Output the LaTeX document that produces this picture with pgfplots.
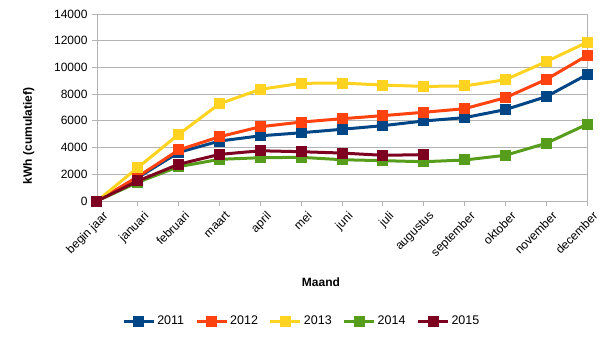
\documentclass[border=0pt]{standalone}
\usepackage{fontspec}
\setmainfont{Liberation Sans}
\usepackage{pgfplots}
\pgfplotsset{compat=1.18}
\definecolor{c2011}{HTML}{004586}
\definecolor{c2012}{HTML}{FF420E}
\definecolor{c2013}{HTML}{FFD320}
\definecolor{c2014}{HTML}{579D1C}
\definecolor{c2015}{HTML}{7E0021}
\definecolor{gridgray}{HTML}{B3B3B3}
\begin{document}
\begin{tikzpicture}
\path[use as bounding box] (-97bp,-138bp) rectangle (507bp,201bp);
\begin{axis}[
  scale only axis,
  width=490bp, height=187bp,
  xmin=0, xmax=12, ymin=0, ymax=14000,
  xtick={0,...,12},
  xticklabels={begin jaar,januari,februari,maart,april,mei,juni,juli,augustus,september,oktober,november,december},
  ytick={0,2000,...,14000},
  scaled y ticks=false,
  /pgf/number format/assume math mode=true,
  /pgf/number format/1000 sep={},
  ymajorgrids,
  grid style={gridgray, line width=0.8bp},
  axis line style={gridgray, line width=0.8bp},
  tick style={gridgray, line width=0.8bp},
  tick align=outside,
  major tick length=5bp,
  xtick pos=bottom, ytick pos=left,
  ticklabel style={font=\fontsize{12bp}{14bp}\selectfont, text=black},
  xticklabel style={rotate=45, anchor=north east, xshift=1.5bp, yshift=-6bp, inner sep=1bp},
  yticklabel style={xshift=-1bp},
  xlabel={\textbf{Maand}},
  ylabel={\textbf{kWh (cumulatief)}},
  label style={font=\fontsize{12bp}{14bp}\selectfont},
  xlabel style={at={(axis description cs:0.457,-0.433)}, anchor=center},
  ylabel style={at={(axis description cs:-0.139,0.348)}, anchor=center},
  legend columns=5,
  legend style={at={(axis description cs:0.418,-0.642)}, anchor=center, draw=none,
    font=\fontsize{12.5bp}{14bp}\selectfont, /tikz/every even column/.append style={column sep=9bp},
    inner sep=0pt},
  legend image code/.code={\draw[#1, mark repeat=2, mark phase=2] plot coordinates {(0bp,0bp) (15bp,0bp) (30bp,0bp)};},
  every axis plot/.append style={line width=3bp, mark=square*, mark size=4bp, mark options={solid, line width=0pt}},
]
\addplot[c2011, mark options={fill=c2011, draw=c2011}] coordinates {(0,0) (1,1750) (2,3640) (3,4490) (4,4880) (5,5110) (6,5370) (7,5640) (8,5990) (9,6240) (10,6840) (11,7810) (12,9460)};
\addlegendentry{2011}
\addplot[c2012, mark options={fill=c2012, draw=c2012}] coordinates {(0,0) (1,1820) (2,3820) (3,4810) (4,5560) (5,5910) (6,6160) (7,6390) (8,6640) (9,6910) (10,7730) (11,9100) (12,10880)};
\addlegendentry{2012}
\addplot[c2013, mark options={fill=c2013, draw=c2013}] coordinates {(0,0) (1,2500) (2,4990) (3,7280) (4,8360) (5,8810) (6,8830) (7,8680) (8,8580) (9,8610) (10,9080) (11,10430) (12,11880)};
\addlegendentry{2013}
\addplot[c2014, mark options={fill=c2014, draw=c2014}] coordinates {(0,0) (1,1400) (2,2570) (3,3120) (4,3240) (5,3270) (6,3090) (7,3020) (8,2940) (9,3070) (10,3420) (11,4320) (12,5740)};
\addlegendentry{2014}
\addplot[c2015, mark options={fill=c2015, draw=c2015}] coordinates {(0,0) (1,1500) (2,2750) (3,3490) (4,3760) (5,3690) (6,3590) (7,3420) (8,3470)};
\addlegendentry{2015}
\end{axis}
\end{tikzpicture}
\end{document}
